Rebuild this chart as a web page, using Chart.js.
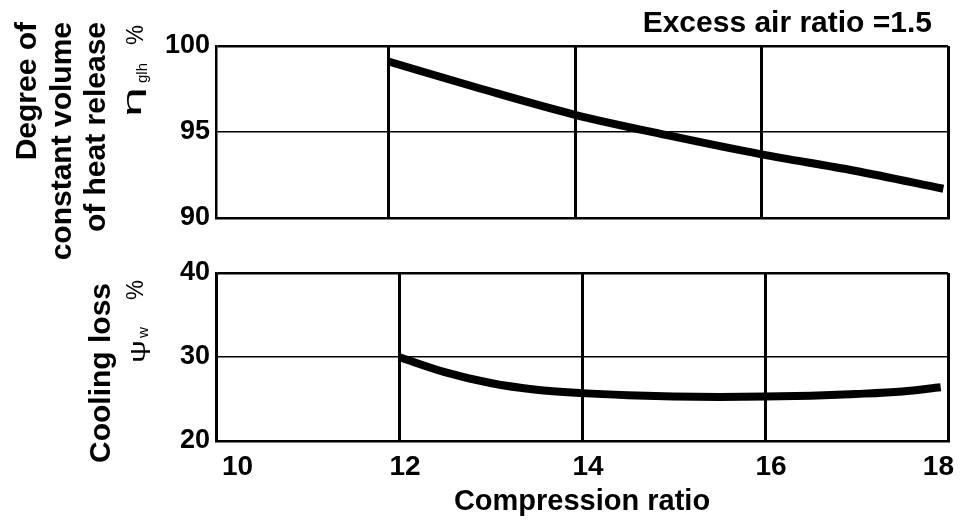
<!DOCTYPE html>
<html>
<head>
<meta charset="utf-8">
<script src="https://cdn.jsdelivr.net/npm/chart.js@4"></script>
<style>
  html, body { margin: 0; padding: 0; background: #fff; }
  #wrap { position: relative; width: 961px; height: 523px; }
  #wrap canvas { position: absolute; left: 0; }
</style>
</head>
<body>
<div id="wrap">
  <canvas id="topChart" width="961" height="275" style="top:0"></canvas>
  <canvas id="bottomChart" width="961" height="285" style="top:238px"></canvas>
</div>
<script>
// values
const ratioTop = [12, 13, 14, 15, 16, 17, 17.95];
const heatRelease = [99.1, 97.5, 96.0, 94.8, 93.7, 92.75, 91.7];
const ratioBottom = [12, 12.5, 13, 13.5, 14, 14.5, 15, 15.5, 16, 16.5, 17, 17.5, 17.92];
const coolingLoss = [30.0, 28.2, 26.9, 26.1, 25.7, 25.45, 25.3, 25.25, 25.3, 25.4, 25.6, 25.9, 26.4];
const xTicks = [10, 12, 14, 16, 18];
const topTicks = [90, 95, 100];
const bottomTicks = [20, 30, 40];

const family = '"Liberation Sans", Arial, Helvetica, sans-serif';

function points(xs, ys) {
  return xs.map((x, i) => ({ x: x, y: ys[i] }));
}

// draws extra text (rotated axis titles, symbols with subscripts, note)
function textPlugin(items) {
  return {
    id: 'extraText',
    afterDraw(chart) {
      const ctx = chart.ctx;
      ctx.save();
      ctx.fillStyle = '#000';
      items.forEach(it => {
        ctx.save();
        ctx.font = (it.bold ? 'bold ' : '') + it.size + 'px ' + family;
        ctx.textAlign = it.align || 'left';
        ctx.textBaseline = it.baseline || 'alphabetic';
        ctx.translate(it.x, it.y);
        if (it.rot) ctx.rotate(-Math.PI / 2);
        if (it.w) ctx.scale(it.w / ctx.measureText(it.text).width, 1);
        ctx.fillText(it.text, 0, 0);
        ctx.restore();
      });
      ctx.restore();
    }
  };
}

function yScale(min, max, ticks) {
  return {
    min: min,
    max: max,
    afterBuildTicks: s => { s.ticks = ticks.map(v => ({ value: v })); },
    afterFit: s => { s.width = 216; },
    grid: {
      color: '#000',
      lineWidth: c => (c.tick && c.tick.value === max ? 2.5 : 1.5),
      drawTicks: false
    },
    border: { color: '#000', width: 2.5 },
    ticks: { color: '#000', padding: 6, font: { family: family, size: 27, weight: 'bold' } }
  };
}

function xScale(min, max, showLabels, height) {
  return {
    type: 'linear',
    min: min,
    max: max,
    afterBuildTicks: s => {
      s.ticks = xTicks.filter(v => v >= min && v <= max).map(v => ({ value: v }));
    },
    afterFit: s => {
      s.height = height;
      s.paddingLeft = 0;
      s.paddingRight = 0;
    },
    grid: { color: '#000', lineWidth: 3, drawTicks: false },
    border: { color: '#000', width: 2.5 },
    ticks: {
      display: showLabels,
      color: '#000',
      padding: 9,
      align: 'inner',
      labelOffset: 6,
      font: { family: family, size: 28, weight: 'bold' }
    },
    title: {
      display: showLabels,
      text: 'Compression ratio',
      color: '#000',
      padding: { top: 0, bottom: 4 },
      font: { family: family, size: 29, weight: 'bold' }
    }
  };
}

function lineData(xs, ys) {
  return {
    datasets: [{
      data: points(xs, ys),
      borderColor: '#000',
      borderWidth: 8,
      pointRadius: 0,
      cubicInterpolationMode: 'monotone',
      fill: false
    }]
  };
}

const common = {
  responsive: false,
  animation: false,
  plugins: { legend: { display: false }, tooltip: { enabled: false } }
};

new Chart(document.getElementById('topChart'), {
  type: 'line',
  data: lineData(ratioTop, heatRelease),
  options: Object.assign({}, common, {
    layout: { padding: { top: 46, right: 13, bottom: 57, left: 0 } },
    scales: {
      x: xScale(10.15, 18, false, 0),
      y: yScale(90, 100, topTicks)
    }
  }),
  plugins: [textPlugin([
    { text: 'Excess air ratio =1.5', x: 932, y: 24, size: 30, bold: true, align: 'right', baseline: 'middle' },
    { text: 'Degree of', x: 28, y: 22, size: 30, bold: true, rot: true, align: 'right', baseline: 'middle' },
    { text: 'constant volume', x: 63, y: 22, size: 30, bold: true, rot: true, align: 'right', baseline: 'middle' },
    { text: 'of heat release', x: 97, y: 22, size: 30, bold: true, rot: true, align: 'right', baseline: 'middle' },
    { text: 'η', x: 141, y: 117, size: 25, rot: true, w: 30 },
    { text: 'glh', x: 147, y: 83, size: 14, rot: true, w: 20 },
    { text: '%', x: 143, y: 45, size: 24, rot: true, w: 20 }
  ])]
});

new Chart(document.getElementById('bottomChart'), {
  type: 'line',
  data: lineData(ratioBottom, coolingLoss),
  options: Object.assign({}, common, {
    layout: { padding: { top: 35, right: 13, bottom: 0, left: 0 } },
    scales: {
      x: xScale(10, 18, true, 82),
      y: yScale(20, 40, bottomTicks)
    }
  }),
  plugins: [textPlugin([
    { text: 'Cooling loss', x: 102, y: 45, size: 30, bold: true, rot: true, align: 'right', baseline: 'middle' },
    { text: 'ψ', x: 145, y: 125, size: 22, rot: true, w: 23 },
    { text: 'w', x: 148, y: 100, size: 15, rot: true, w: 11 },
    { text: '%', x: 143, y: 62, size: 24, rot: true, w: 20 }
  ])]
});
</script>
</body>
</html>
